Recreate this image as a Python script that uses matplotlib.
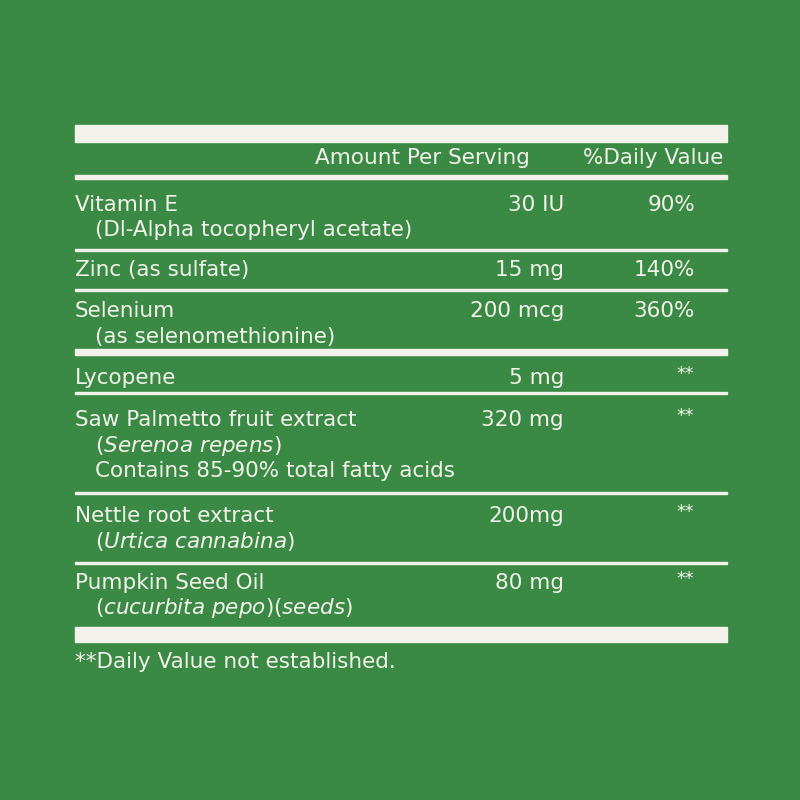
import matplotlib
matplotlib.use("Agg")
import matplotlib.pyplot as plt
from matplotlib.patches import Rectangle

plt.rcParams['font.family'] = ['DejaVu Sans']
plt.rcParams['mathtext.fontset'] = 'custom'
plt.rcParams['mathtext.rm'] = 'DejaVu Sans'
plt.rcParams['mathtext.it'] = 'DejaVu Sans:italic'

BG = '#3a8a45'
FG = '#f2f2ea'

names = ["Vitamin E", "Zinc (as sulfate)", "Selenium", "Lycopene",
         "Saw Palmetto fruit extract", "Nettle root extract", "Pumpkin Seed Oil"]
sublines = [["(Dl-Alpha tocopheryl acetate)"], [], ["(as selenomethionine)"], [],
            [r"($\mathit{Serenoa\ repens}$)", "Contains 85-90% total fatty acids"],
            [r"($\mathit{Urtica\ cannabina}$)"],
            [r"($\mathit{cucurbita\ pepo}$)($\mathit{seeds}$)"]]
amounts = ["30 IU", "15 mg", "200 mcg", "5 mg", "320 mg", "200mg", "80 mg"]
dvs = ["90%", "140%", "360%", "**", "**", "**", "**"]
row_y = [205, 270, 311, 378, 420, 516, 583]
separators = [(250, 2), (290, 2), (352, 6), (393, 2), (493, 2), (563, 2)]
footnote = "**Daily Value not established."

fig = plt.figure(figsize=(8, 8), dpi=100)
fig.patch.set_facecolor(BG)
ax = fig.add_axes([0, 0, 1, 1])
ax.set_xlim(0, 800); ax.set_ylim(800, 0); ax.axis('off')
ax.set_facecolor(BG)

L, R = 75, 727
ax.add_patch(Rectangle((L, 125), R - L, 17, color=FG))
ax.add_patch(Rectangle((L, 175), R - L, 4, color=FG))
ax.add_patch(Rectangle((L, 627), R - L, 15, color=FG))
for y, h in separators:
    ax.add_patch(Rectangle((L, y - h / 2), R - L, h, color=FG))

fs = 15.5
ax.text(530, 158, "Amount Per Serving", color=FG, fontsize=fs, ha='right', va='center')
ax.text(723, 158, "%Daily Value", color=FG, fontsize=fs, ha='right', va='center')

for name, subs, amt, dv, y in zip(names, sublines, amounts, dvs, row_y):
    ax.text(L, y, name, color=FG, fontsize=fs, va='center', ha='left')
    for i, s in enumerate(subs):
        ax.text(95, y + 25.5 * (i + 1), s, color=FG, fontsize=fs, va='center', ha='left')
    ax.text(564, y, amt, color=FG, fontsize=fs, va='center', ha='right')
    if dv == "**":
        ax.text(685, y - 4, dv, color=FG, fontsize=fs - 3, va='center', ha='center')
    else:
        ax.text(695, y, dv, color=FG, fontsize=fs, va='center', ha='right')

ax.text(L, 662, footnote, color=FG, fontsize=fs, va='center', ha='left')

fig.savefig("out.png", dpi=100, facecolor=BG)
